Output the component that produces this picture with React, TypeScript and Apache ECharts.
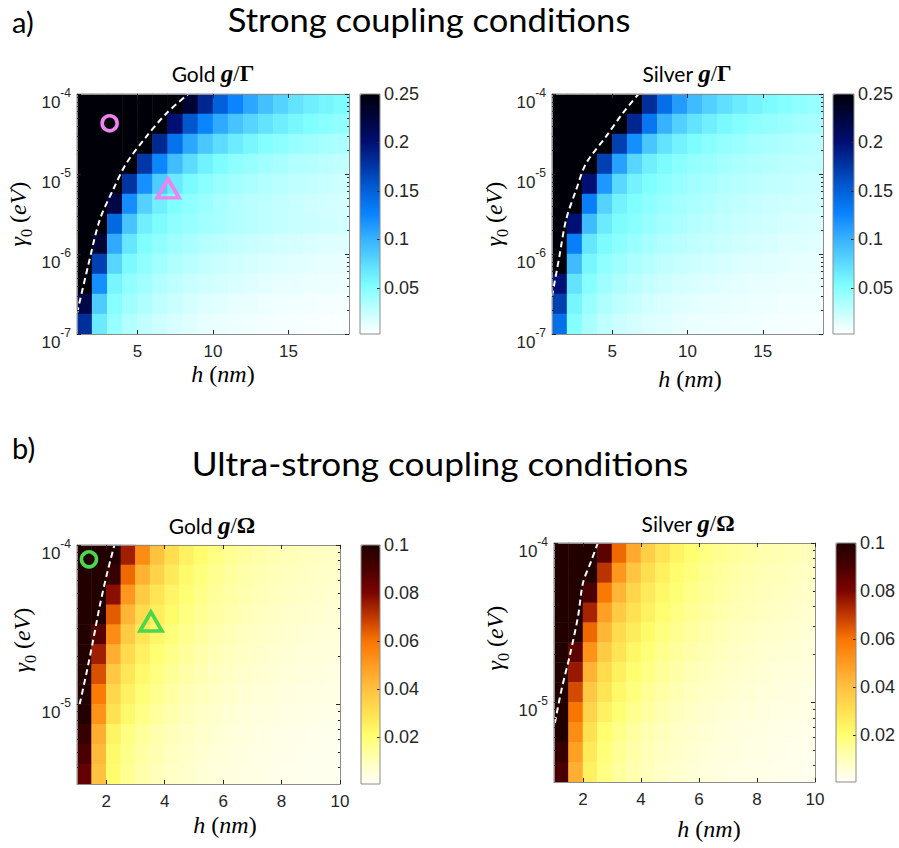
import React, { useEffect, useRef } from 'react';
import * as echarts from 'echarts';

// ---------- DATA ----------
// Panel a (strong coupling): h (nm) cell centres and log10(γ0 / eV) cell centres (bottom -> top)
const hA = [1.5, 2.5, 3.5, 4.5, 5.5, 6.5, 7.5, 8.5, 9.5, 10.5, 11.5, 12.5, 13.5, 14.5, 15.5, 16.5, 17.5, 18.5];
const logGammaA = [-6.875, -6.625, -6.375, -6.125, -5.875, -5.625, -5.375, -5.125, -4.875, -4.625, -4.375, -4.125];
// Panel b (ultra-strong coupling)
const hB = [1.25, 1.75, 2.25, 2.75, 3.25, 3.75, 4.25, 4.75, 5.25, 5.75, 6.25, 6.75, 7.25, 7.75, 8.25, 8.75, 9.25, 9.75];
const logGammaB = [-5.4375, -5.3125, -5.1875, -5.0625, -4.9375, -4.8125, -4.6875, -4.5625, -4.4375, -4.3125, -4.1875, -4.0625];

// g/Γ for gold, rows from top (γ0 = 1e-4) to bottom (γ0 = 1e-7)
const goldGOverGamma = [
  [0.3, 0.3, 0.3, 0.3, 0.3, 0.3, 0.3, 0.23, 0.185, 0.15, 0.126, 0.107, 0.092, 0.08, 0.07, 0.063, 0.058, 0.054],
  [0.3, 0.3, 0.3, 0.3, 0.3, 0.27, 0.2, 0.157, 0.126, 0.105, 0.09, 0.079, 0.07, 0.063, 0.057, 0.052, 0.048, 0.045],
  [0.3, 0.3, 0.3, 0.3, 0.26, 0.184, 0.138, 0.107, 0.087, 0.074, 0.064, 0.057, 0.051, 0.047, 0.043, 0.04, 0.037, 0.035],
  [0.3, 0.3, 0.3, 0.26, 0.175, 0.125, 0.094, 0.074, 0.061, 0.053, 0.047, 0.043, 0.039, 0.036, 0.033, 0.031, 0.029, 0.027],
  [0.3, 0.3, 0.29, 0.177, 0.119, 0.085, 0.066, 0.055, 0.048, 0.043, 0.039, 0.035, 0.032, 0.03, 0.028, 0.026, 0.024, 0.022],
  [0.3, 0.3, 0.22, 0.121, 0.081, 0.062, 0.052, 0.046, 0.041, 0.037, 0.033, 0.03, 0.028, 0.026, 0.024, 0.022, 0.02, 0.019],
  [0.3, 0.29, 0.145, 0.09, 0.062, 0.053, 0.047, 0.043, 0.039, 0.036, 0.033, 0.03, 0.028, 0.026, 0.024, 0.023, 0.021, 0.02],
  [0.3, 0.23, 0.105, 0.068, 0.052, 0.045, 0.04, 0.036, 0.032, 0.029, 0.026, 0.024, 0.022, 0.02, 0.019, 0.017, 0.016, 0.015],
  [0.3, 0.17, 0.078, 0.055, 0.045, 0.039, 0.034, 0.03, 0.026, 0.023, 0.021, 0.019, 0.017, 0.016, 0.014, 0.013, 0.012, 0.011],
  [0.26, 0.12, 0.058, 0.046, 0.039, 0.033, 0.028, 0.024, 0.021, 0.019, 0.017, 0.015, 0.013, 0.012, 0.011, 0.01, 0.0095, 0.009],
  [0.22, 0.085, 0.05, 0.04, 0.034, 0.028, 0.023, 0.019, 0.016, 0.014, 0.012, 0.011, 0.0095, 0.0085, 0.0078, 0.0072, 0.0066, 0.006],
  [0.18, 0.065, 0.043, 0.033, 0.027, 0.022, 0.018, 0.015, 0.012, 0.0105, 0.0092, 0.0082, 0.0074, 0.0066, 0.006, 0.0055, 0.005, 0.0046],
];
const silverGOverGamma = [
  [0.3, 0.3, 0.3, 0.3, 0.3, 0.25, 0.181, 0.141, 0.113, 0.095, 0.082, 0.072, 0.065, 0.059, 0.054, 0.05, 0.046, 0.043],
  [0.3, 0.3, 0.3, 0.3, 0.26, 0.185, 0.135, 0.1, 0.082, 0.07, 0.062, 0.056, 0.051, 0.047, 0.044, 0.041, 0.038, 0.036],
  [0.3, 0.3, 0.3, 0.25, 0.17, 0.12, 0.088, 0.07, 0.06, 0.053, 0.048, 0.044, 0.041, 0.038, 0.036, 0.034, 0.032, 0.03],
  [0.3, 0.3, 0.27, 0.17, 0.11, 0.078, 0.062, 0.054, 0.048, 0.044, 0.041, 0.038, 0.035, 0.033, 0.031, 0.029, 0.028, 0.027],
  [0.3, 0.3, 0.2, 0.115, 0.077, 0.06, 0.052, 0.047, 0.043, 0.039, 0.036, 0.033, 0.031, 0.029, 0.027, 0.026, 0.024, 0.023],
  [0.3, 0.26, 0.13, 0.08, 0.06, 0.052, 0.047, 0.042, 0.038, 0.035, 0.032, 0.029, 0.027, 0.025, 0.023, 0.022, 0.021, 0.02],
  [0.3, 0.2, 0.095, 0.065, 0.053, 0.048, 0.043, 0.038, 0.035, 0.032, 0.029, 0.026, 0.024, 0.022, 0.021, 0.019, 0.018, 0.017],
  [0.3, 0.13, 0.068, 0.054, 0.047, 0.042, 0.037, 0.033, 0.03, 0.027, 0.025, 0.023, 0.021, 0.019, 0.018, 0.016, 0.015, 0.014],
  [0.25, 0.095, 0.057, 0.046, 0.04, 0.035, 0.031, 0.027, 0.024, 0.022, 0.02, 0.018, 0.016, 0.015, 0.014, 0.013, 0.012, 0.011],
  [0.2, 0.07, 0.049, 0.04, 0.034, 0.029, 0.025, 0.022, 0.019, 0.017, 0.016, 0.014, 0.013, 0.012, 0.011, 0.0105, 0.01, 0.0095],
  [0.17, 0.058, 0.042, 0.034, 0.028, 0.024, 0.02, 0.017, 0.015, 0.0135, 0.012, 0.011, 0.01, 0.0095, 0.009, 0.0085, 0.008, 0.0075],
  [0.14, 0.05, 0.036, 0.028, 0.023, 0.019, 0.016, 0.014, 0.012, 0.0105, 0.0095, 0.0088, 0.0082, 0.0076, 0.007, 0.0065, 0.006, 0.0055],
];
// g/Ω, rows from top (γ0 = 1e-4) to bottom (γ0 ≈ 3.2e-6)
const goldGOverOmega = [
  [0.12, 0.12, 0.112, 0.075, 0.054, 0.04, 0.031, 0.025, 0.021, 0.018, 0.0155, 0.0138, 0.0124, 0.0113, 0.0104, 0.0096, 0.009, 0.0085],
  [0.12, 0.12, 0.095, 0.062, 0.044, 0.034, 0.027, 0.022, 0.0185, 0.016, 0.014, 0.0125, 0.0113, 0.0103, 0.0095, 0.0088, 0.0082, 0.0077],
  [0.12, 0.12, 0.078, 0.051, 0.037, 0.029, 0.0235, 0.0198, 0.017, 0.0148, 0.013, 0.0116, 0.0104, 0.0095, 0.0087, 0.008, 0.0074, 0.0069],
  [0.12, 0.104, 0.064, 0.043, 0.032, 0.026, 0.0215, 0.018, 0.0155, 0.0135, 0.0118, 0.0105, 0.0094, 0.0085, 0.0078, 0.0072, 0.0066, 0.0061],
  [0.12, 0.088, 0.054, 0.037, 0.028, 0.023, 0.019, 0.016, 0.0138, 0.012, 0.0105, 0.0093, 0.0083, 0.0075, 0.0068, 0.0062, 0.0057, 0.0053],
  [0.12, 0.075, 0.045, 0.032, 0.025, 0.02, 0.0168, 0.0143, 0.0123, 0.0107, 0.0094, 0.0083, 0.0074, 0.0067, 0.0061, 0.0055, 0.0051, 0.0047],
  [0.115, 0.066, 0.038, 0.028, 0.022, 0.018, 0.015, 0.0127, 0.011, 0.0095, 0.0083, 0.0073, 0.0065, 0.0059, 0.0053, 0.0048, 0.0044, 0.0041],
  [0.105, 0.058, 0.033, 0.025, 0.0195, 0.016, 0.0133, 0.0112, 0.0096, 0.0083, 0.0072, 0.0064, 0.0057, 0.0051, 0.0046, 0.0042, 0.0038, 0.0035],
  [0.1, 0.052, 0.03, 0.022, 0.0175, 0.0142, 0.0118, 0.0099, 0.0084, 0.0072, 0.0063, 0.0055, 0.0049, 0.0044, 0.004, 0.0036, 0.0033, 0.003],
  [0.095, 0.045, 0.024, 0.018, 0.0145, 0.012, 0.01, 0.0085, 0.0072, 0.0062, 0.0054, 0.0047, 0.0042, 0.0037, 0.0033, 0.003, 0.0027, 0.0025],
  [0.09, 0.042, 0.022, 0.0165, 0.0132, 0.011, 0.0092, 0.0078, 0.0066, 0.0057, 0.0049, 0.0043, 0.0038, 0.0034, 0.003, 0.0027, 0.0025, 0.0023],
  [0.085, 0.04, 0.021, 0.0155, 0.0122, 0.01, 0.0084, 0.0071, 0.006, 0.0052, 0.0045, 0.0039, 0.0035, 0.0031, 0.0028, 0.0025, 0.0023, 0.0021],
];
const silverGOverOmega = [
  [0.12, 0.12, 0.12, 0.086, 0.062, 0.046, 0.036, 0.029, 0.024, 0.0207, 0.0178, 0.0159, 0.0143, 0.013, 0.012, 0.011, 0.0104, 0.0098],
  [0.12, 0.12, 0.109, 0.071, 0.051, 0.039, 0.031, 0.0253, 0.0213, 0.0184, 0.0161, 0.0144, 0.013, 0.0118, 0.0109, 0.0101, 0.0094, 0.0089],
  [0.12, 0.12, 0.09, 0.059, 0.043, 0.0334, 0.027, 0.0228, 0.0196, 0.017, 0.015, 0.0133, 0.012, 0.0109, 0.01, 0.0092, 0.0085, 0.0079],
  [0.12, 0.12, 0.074, 0.049, 0.037, 0.03, 0.0247, 0.0207, 0.0178, 0.0155, 0.0136, 0.0121, 0.0108, 0.0098, 0.009, 0.0083, 0.0076, 0.007],
  [0.12, 0.1, 0.062, 0.043, 0.032, 0.0265, 0.0218, 0.0184, 0.0159, 0.0138, 0.0121, 0.0107, 0.0095, 0.0086, 0.0078, 0.0071, 0.0066, 0.0061],
  [0.12, 0.086, 0.052, 0.037, 0.029, 0.023, 0.0193, 0.0164, 0.0141, 0.0123, 0.0108, 0.0095, 0.0085, 0.0077, 0.007, 0.0063, 0.0059, 0.0054],
  [0.12, 0.076, 0.044, 0.032, 0.0253, 0.0207, 0.0173, 0.0146, 0.0127, 0.0109, 0.0095, 0.0084, 0.0075, 0.0068, 0.0061, 0.0055, 0.0051, 0.0047],
  [0.115, 0.067, 0.038, 0.029, 0.0224, 0.0184, 0.0153, 0.0129, 0.011, 0.0095, 0.0083, 0.0074, 0.0066, 0.0059, 0.0053, 0.0048, 0.0044, 0.004],
  [0.11, 0.06, 0.034, 0.025, 0.0201, 0.0163, 0.0136, 0.0114, 0.0097, 0.0083, 0.0072, 0.0063, 0.0056, 0.0051, 0.0046, 0.0041, 0.0038, 0.0035],
  [0.1, 0.054, 0.03, 0.0207, 0.0167, 0.0138, 0.0115, 0.0098, 0.0083, 0.0071, 0.0062, 0.0054, 0.0048, 0.0043, 0.0038, 0.0035, 0.0031, 0.0029],
  [0.095, 0.049, 0.027, 0.019, 0.0152, 0.0127, 0.0106, 0.009, 0.0076, 0.0066, 0.0056, 0.0049, 0.0044, 0.0039, 0.0035, 0.0031, 0.0029, 0.0026],
  [0.09, 0.045, 0.025, 0.0178, 0.014, 0.0115, 0.0097, 0.0082, 0.0069, 0.006, 0.0052, 0.0045, 0.004, 0.0036, 0.0032, 0.0029, 0.0026, 0.0024],
];

// dashed threshold curves (h in nm, log10 γ0)
const goldAContourH = [1.0, 1.72, 2.5, 3.38, 4.27, 5.6, 6.93, 8.36];
const goldAContourLogGamma = [-6.74, -6.16, -5.575, -5.2, -4.866, -4.53, -4.24, -4.0];
const silverAContourH = [1.0, 1.49, 1.93, 2.6, 3.27, 4.6, 5.7, 6.75];
const silverAContourLogGamma = [-6.53, -6.03, -5.575, -5.2, -4.866, -4.53, -4.24, -4.0];
const goldBContourH = [1.09, 1.34, 1.55, 1.77, 2.0, 2.28];
const goldBContourLogGamma = [-5.0, -4.79, -4.6, -4.39, -4.2, -4.0];
const silverBContourH = [1.03, 1.26, 1.54, 1.83, 2.0, 2.29, 2.51];
const silverBContourLogGamma = [-5.13, -4.92, -4.71, -4.46, -4.25, -4.11, -4.0];

// highlighted operating points
const goldAMarkerSymbols = ['circle', 'triangle'];
const goldAMarkerH = [3.16, 7.03];
const goldAMarkerLogGamma = [-4.366, -5.18];
const goldBMarkerSymbols = ['circle', 'triangle'];
const goldBMarkerH = [1.41, 3.53];
const goldBMarkerLogGamma = [-4.09, -4.48];

// ticks
const xTicksA = [5, 10, 15];
const yTicksA = [-7, -6, -5, -4];
const xTicksB = [2, 4, 6, 8, 10];
const yTicksB = [-5, -4];
const cbarTicksA = [0.05, 0.1, 0.15, 0.2, 0.25];
const cbarTicksB = [0.02, 0.04, 0.06, 0.08, 0.1];
const minorFactors = [2, 3, 4, 5, 6, 7, 8, 9];

// colour maps
const blueMap = ['#ffffff', '#c0ffff', '#80ffff', '#5ad8ff', '#36b0ff', '#0a84ff', '#0060d8', '#0036a4', '#000e72', '#00053c', '#000008'];
const heatMap = ['#fffffa', '#ffffb8', '#ffff70', '#ffe050', '#ffc040', '#ff9a20', '#f87400', '#c03800', '#7c0400', '#4a0000', '#220000'];

// ---------- STYLE ----------
const FONT_TICK = 'Liberation Sans, Arial, sans-serif';
const FONT_MATH = 'Liberation Serif, serif';
const FONT_TITLE = 'Lato, sans-serif';
const TICK_COLOR = '#262626';
const BOX = '#8c8c8c';

type Panel = {
  plot: number[]; cbar: number[]; xRange: number[]; yRange: number[];
  xTicks: number[]; yTicks: number[]; hCats: number[]; gCats: number[];
  values: number[][]; vRange: number[]; colors: string[]; cbarTicks: number[];
  contourH: number[]; contourG: number[];
  markerSymbols?: string[]; markerH?: number[]; markerG?: number[]; markerColor?: string;
  title: string; sym: string; titlePos: number[]; yNamePos: number[]; xNamePos: number[];
};

const panels: Panel[] = [
  {
    plot: [77, 94, 272, 240], cbar: [360, 94, 20, 240], xRange: [1, 19], yRange: [-7, -4],
    xTicks: xTicksA, yTicks: yTicksA, hCats: hA, gCats: logGammaA, values: goldGOverGamma,
    vRange: [0.0025, 0.25], colors: blueMap, cbarTicks: cbarTicksA,
    contourH: goldAContourH, contourG: goldAContourLogGamma,
    markerSymbols: goldAMarkerSymbols, markerH: goldAMarkerH, markerG: goldAMarkerLogGamma, markerColor: '#ee82ee',
    title: 'Gold', sym: 'Γ', titlePos: [213, 73], yNamePos: [20, 214], xNamePos: [223, 374],
  },
  {
    plot: [552, 94, 271, 240], cbar: [833, 94, 21, 240], xRange: [1, 19], yRange: [-7, -4],
    xTicks: xTicksA, yTicks: yTicksA, hCats: hA, gCats: logGammaA, values: silverGOverGamma,
    vRange: [0.0025, 0.25], colors: blueMap, cbarTicks: cbarTicksA,
    contourH: silverAContourH, contourG: silverAContourLogGamma,
    title: 'Silver', sym: 'Γ', titlePos: [687, 73], yNamePos: [496, 214], xNamePos: [690, 379],
  },
  {
    plot: [77, 545, 263, 239], cbar: [361, 545, 19, 239], xRange: [1, 10], yRange: [-5.5, -4],
    xTicks: xTicksB, yTicks: yTicksB, hCats: hB, gCats: logGammaB, values: goldGOverOmega,
    vRange: [0.0005, 0.1], colors: heatMap, cbarTicks: cbarTicksB,
    contourH: goldBContourH, contourG: goldBContourLogGamma,
    markerSymbols: goldBMarkerSymbols, markerH: goldBMarkerH, markerG: goldBMarkerLogGamma, markerColor: '#4cd64c',
    title: 'Gold', sym: 'Ω', titlePos: [212, 525], yNamePos: [24, 640], xNamePos: [225, 825],
  },
  {
    plot: [554, 543, 261, 239], cbar: [836, 543, 20, 239], xRange: [1, 10], yRange: [-5.5, -4],
    xTicks: xTicksB, yTicks: yTicksB, hCats: hB, gCats: logGammaB, values: silverGOverOmega,
    vRange: [0.0005, 0.1], colors: heatMap, cbarTicks: cbarTicksB,
    contourH: silverBContourH, contourG: silverBContourLogGamma,
    title: 'Silver', sym: 'Ω', titlePos: [688, 523], yNamePos: [497, 638], xNamePos: [709, 829],
  },
];

function minorTicks(range: number[]) {
  const out: number[] = [];
  for (let n = Math.floor(range[0]); n < range[1]; n++) {
    minorFactors.forEach((k) => {
      const v = n + Math.log10(k);
      if (v > range[0] && v < range[1]) out.push(v);
    });
  }
  return out;
}

function buildOption() {
  const grid: any[] = [];
  const xAxis: any[] = [];
  const yAxis: any[] = [];
  const series: any[] = [];
  const visualMap: any[] = [];
  const elements: any[] = [];
  const tickLabel = { fontFamily: FONT_TICK, fontSize: 17, color: TICK_COLOR };
  const frame = { show: true, onZero: false, lineStyle: { color: BOX, width: 1 } };
  const noLine = { show: false, onZero: false };

  panels.forEach((p) => {
    const [pl, pt, pw, ph] = p.plot;
    const gHeat = grid.length;
    grid.push({ left: pl, top: pt, width: pw, height: ph });
    const gOver = grid.length;
    grid.push({ left: pl, top: pt, width: pw, height: ph });
    const gBar = grid.length;
    grid.push({ left: p.cbar[0], top: p.cbar[1], width: p.cbar[2], height: p.cbar[3] });

    const xHeat = xAxis.length;
    xAxis.push({ gridIndex: gHeat, type: 'category', data: p.hCats.map(String), show: false });
    const yHeat = yAxis.length;
    yAxis.push({ gridIndex: gHeat, type: 'category', data: p.gCats.map(String), show: false });

    const majorTickX = { show: true, inside: true, length: 4, customValues: p.xTicks, lineStyle: { color: TICK_COLOR } };
    const xBot = xAxis.length;
    xAxis.push({
      gridIndex: gOver, type: 'value', position: 'bottom', min: p.xRange[0], max: p.xRange[1], z: 10,
      axisLine: frame, splitLine: { show: false }, axisTick: majorTickX,
      axisLabel: { ...tickLabel, margin: 9, lineHeight: 16, customValues: p.xTicks },
    });
    xAxis.push({
      gridIndex: gOver, type: 'value', position: 'top', min: p.xRange[0], max: p.xRange[1], z: 10,
      axisLine: frame, splitLine: { show: false }, axisTick: majorTickX, axisLabel: { show: false },
    });
    const majorTickY = { show: true, inside: true, length: 4, customValues: p.yTicks, lineStyle: { color: TICK_COLOR } };
    const minorTickY = { show: true, inside: true, length: 2, customValues: minorTicks(p.yRange), lineStyle: { color: TICK_COLOR } };
    const yLeft = yAxis.length;
    yAxis.push({
      gridIndex: gOver, type: 'value', position: 'left', min: p.yRange[0], max: p.yRange[1], z: 10,
      axisLine: frame, splitLine: { show: false }, axisTick: majorTickY,
      axisLabel: {
        customValues: p.yTicks, margin: 6, padding: [10, 0, 0, 0],
        formatter: (v: number) => `{b|10}{s|${Math.round(v)}}`,
        rich: {
          b: { fontFamily: FONT_TICK, fontSize: 17, color: TICK_COLOR, verticalAlign: 'bottom', padding: [7, 0, 0, 0] },
          s: { fontFamily: FONT_TICK, fontSize: 12, color: TICK_COLOR, verticalAlign: 'top' },
        },
      },
    });
    yAxis.push({
      gridIndex: gOver, type: 'value', position: 'right', min: p.yRange[0], max: p.yRange[1], z: 10,
      axisLine: frame, splitLine: { show: false }, axisTick: majorTickY, axisLabel: { show: false },
    });
    yAxis.push({
      gridIndex: gOver, type: 'value', position: 'left', offset: 0, min: p.yRange[0], max: p.yRange[1], z: 10,
      axisLine: noLine, splitLine: { show: false }, axisTick: minorTickY, axisLabel: { show: false },
    });
    yAxis.push({
      gridIndex: gOver, type: 'value', position: 'right', offset: 0, min: p.yRange[0], max: p.yRange[1], z: 10,
      axisLine: noLine, splitLine: { show: false }, axisTick: minorTickY, axisLabel: { show: false },
    });

    xAxis.push({ gridIndex: gBar, type: 'value', min: 0, max: 1, show: false });
    yAxis.push({
      gridIndex: gBar, type: 'value', position: 'right', min: p.vRange[0], max: p.vRange[1], z: 10,
      axisLine: noLine, splitLine: { show: false },
      axisTick: { show: true, inside: true, length: 3, customValues: p.cbarTicks, lineStyle: { color: TICK_COLOR } },
      axisLabel: { ...tickLabel, fontSize: 18, margin: 4, customValues: p.cbarTicks, formatter: (v: number) => String(v) },
    });

    const heatIdx = series.length;
    const data: number[][] = [];
    const nRows = p.values.length;
    p.values.forEach((row, i) => row.forEach((v, j) => data.push([j, nRows - 1 - i, v])));
    series.push({
      type: 'heatmap', xAxisIndex: xHeat, yAxisIndex: yHeat, data, silent: true, progressive: 0,
      emphasis: { disabled: true }, itemStyle: { borderWidth: 0 },
    });
    series.push({
      type: 'line', xAxisIndex: xBot, yAxisIndex: yLeft, silent: true, showSymbol: false, symbol: 'none',
      smooth: 0.3, z: 5,
      data: p.contourH.map((h, i) => [h, p.contourG[i]]),
      lineStyle: { color: '#ffffff', width: 2, type: [6, 4] },
    });
    if (p.markerSymbols && p.markerH && p.markerG) {
      p.markerSymbols.forEach((sym, i) => {
        series.push({
          type: 'scatter', xAxisIndex: xBot, yAxisIndex: yLeft, silent: true, z: 6,
          symbol: sym, symbolSize: sym === 'circle' ? 15 : [22, 19],
          data: [[p.markerH![i], p.markerG![i]]],
          itemStyle: { color: 'rgba(0,0,0,0)', borderColor: p.markerColor, borderWidth: 3.6, opacity: 1 },
        });
      });
    }

    visualMap.push({
      type: 'continuous', seriesIndex: heatIdx, min: p.vRange[0], max: p.vRange[1],
      inRange: { color: p.colors }, calculable: false, orient: 'vertical', hoverLink: false,
      left: p.cbar[0], top: p.cbar[1], itemWidth: p.cbar[2], itemHeight: p.cbar[3], padding: 0,
    });

    elements.push({
      type: 'rect', z: 100, silent: true,
      shape: { x: p.cbar[0], y: p.cbar[1], width: p.cbar[2], height: p.cbar[3] },
      style: { fill: 'none', stroke: BOX, lineWidth: 1 },
    });
    elements.push({
      type: 'text', z: 100, silent: true, x: p.titlePos[0], y: p.titlePos[1],
      style: {
        text: `{t|${p.title} }{g|g}{s|/}{G|${p.sym}}`, align: 'center', verticalAlign: 'middle',
        rich: {
          t: { fontFamily: FONT_TITLE, fontSize: 21, fill: '#000' },
          g: { fontFamily: FONT_MATH, fontSize: 25, fontStyle: 'italic', fontWeight: 'bold', fill: '#000' },
          s: { fontFamily: FONT_MATH, fontSize: 23, fill: '#000' },
          G: { fontFamily: FONT_MATH, fontSize: 23, fontWeight: 'bold', fill: '#000' },
        },
      },
    });
    elements.push({
      type: 'text', z: 100, silent: true, x: p.yNamePos[0], y: p.yNamePos[1], rotation: Math.PI / 2,
      style: {
        text: '{i|γ}{sub|0}{n| (}{i|eV}{n|)}', align: 'center', verticalAlign: 'middle',
        rich: {
          i: { fontFamily: FONT_MATH, fontSize: 24, fontStyle: 'italic', fill: '#000', verticalAlign: 'top', padding: [0, 0, 5, 0] },
          n: { fontFamily: FONT_MATH, fontSize: 24, fill: '#000', verticalAlign: 'top', padding: [0, 0, 5, 0] },
          sub: { fontFamily: FONT_MATH, fontSize: 16, fill: '#000', verticalAlign: 'bottom' },
        },
      },
    });
    elements.push({
      type: 'text', z: 100, silent: true, x: p.xNamePos[0], y: p.xNamePos[1],
      style: {
        text: '{i|h}{n| (}{i|nm}{n|)}', align: 'center', verticalAlign: 'middle',
        rich: {
          i: { fontFamily: FONT_MATH, fontSize: 24, fontStyle: 'italic', fill: '#000', lineHeight: 18 },
          n: { fontFamily: FONT_MATH, fontSize: 24, fill: '#000', lineHeight: 18 },
        },
      },
    });
  });

  const head = (text: string, x: number, y: number, align: string, size: number, sx: number) => ({
    type: 'text', z: 100, silent: true, x, y, scaleX: sx,
    style: { text, fontFamily: FONT_TITLE, fontSize: size, lineHeight: size, fill: '#000', align, verticalAlign: 'middle' },
  });
  elements.push(head('a)', 12, 21, 'left', 29, 1));
  elements.push(head('Strong coupling conditions', 429, 20, 'center', 32, 1.08));
  elements.push(head('b)', 12, 447, 'left', 29, 1));
  elements.push(head('Ultra-strong coupling conditions', 440, 464, 'center', 32, 1.1));

  return {
    animation: false,
    backgroundColor: '#ffffff',
    grid, xAxis, yAxis, series, visualMap,
    graphic: { elements },
  };
}

export default function App() {
  const ref = useRef<HTMLDivElement>(null);
  useEffect(() => {
    const chart = echarts.init(ref.current!, null, { renderer: 'svg' });
    chart.setOption(buildOption() as any);
    return () => chart.dispose();
  }, []);
  return (
    <div
      ref={ref}
      style={{ position: 'absolute', left: 0, top: 0, width: 899, height: 848, background: '#ffffff' }}
    />
  );
}
